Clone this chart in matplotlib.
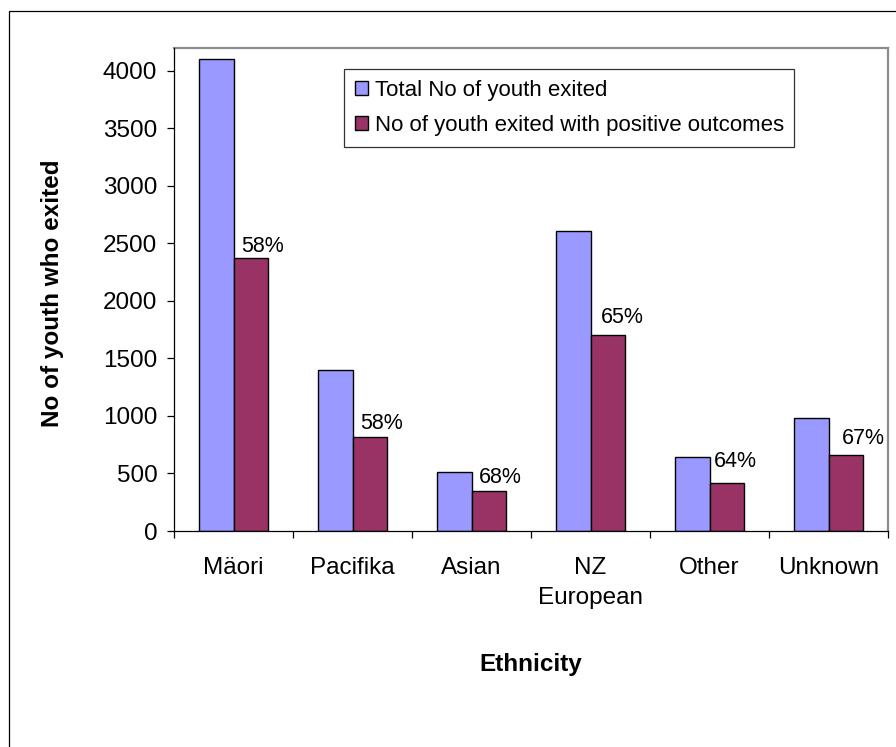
import matplotlib
matplotlib.use("Agg")
import matplotlib.pyplot as plt
import numpy as np
from matplotlib.patches import Rectangle

plt.rcParams['font.family'] = ['Liberation Sans', 'DejaVu Sans']

categories = ["Mäori", "Pacifika", "Asian", "NZ\nEuropean", "Other", "Unknown"]
total_exited = [4100, 1400, 510, 2610, 645, 985]
positive_exited = [2375, 820, 345, 1700, 420, 660]
pct_labels = ["58%", "58%", "68%", "65%", "64%", "67%"]
series_names = ["Total No of youth exited", "No of youth exited with positive outcomes"]
y_ticks = [0, 500, 1000, 1500, 2000, 2500, 3000, 3500, 4000]

# label nudges in pixels (dx, dy) from red bar top-centre
label_nudge_px = [(12, 6), (12, 8), (12, 8), (15, 12), (9, 16), (18, 11)]

W, H = 896, 747
fig = plt.figure(figsize=(W / 100, H / 100), dpi=100)
fig.patch.set_facecolor("white")

# outer border (extends beyond right/bottom edges)
fig.patches.append(Rectangle((9 / W, -0.05), 1.2, 1 - 10.7 / H + 0.05,
                             transform=fig.transFigure, fill=False,
                             edgecolor="black", linewidth=0.9, zorder=0))

left, right, top, bottom = 174, 888, 48, 531
ax = fig.add_axes([left / W, 1 - bottom / H, (right - left) / W, (bottom - top) / H])

x = np.arange(len(categories))
bw = 0.286
ax.bar(x - bw / 2, total_exited, bw, color="#9999FF", edgecolor="black",
       linewidth=1.0, label=series_names[0], zorder=3)
bars2 = ax.bar(x + bw / 2, positive_exited, bw, color="#993366", edgecolor="black",
               linewidth=1.0, label=series_names[1], zorder=3)

for i, (b, t) in enumerate(zip(bars2, pct_labels)):
    dx, dy = label_nudge_px[i]
    ax.annotate(t, (b.get_x() + b.get_width() / 2, b.get_height()),
                xytext=(dx * 0.72, dy * 0.72), textcoords="offset points",
                ha="center", va="baseline", fontsize=15.5, color="black")

ax.set_xlim(-0.5, len(categories) - 0.5)
ax.set_ylim(0, 4197)
ax.set_yticks(y_ticks)
ax.set_yticklabels([str(v) for v in y_ticks], fontsize=17.5)
ax.tick_params(axis="y", direction="out", length=5, width=0.9, pad=7, colors="black")

ax.set_xticks(x)
ax.set_xticklabels(categories, fontsize=17.5, linespacing=1.45)
ax.tick_params(axis="x", which="major", length=0, pad=19)
ax.set_xticks(np.arange(-0.5, len(categories), 1.0), minor=True)
ax.tick_params(axis="x", which="minor", direction="out", length=5, width=0.9)

for s in ["left", "bottom"]:
    ax.spines[s].set_color("black")
    ax.spines[s].set_linewidth(0.9)
    ax.spines[s].set_zorder(4)
for s in ["top", "right"]:
    ax.spines[s].set_color("#8c8c8c")
    ax.spines[s].set_linewidth(1.6)

ax.set_ylabel("No of youth who exited", fontsize=17.5, fontweight="bold")
ax.yaxis.set_label_coords((53 - left) / (right - left), (bottom - 293) / (bottom - top))
ax.yaxis.label.set_va("center")
ax.set_xlabel("Ethnicity", fontsize=17.5, fontweight="bold")
ax.xaxis.set_label_coords(0.5, (bottom - 665) / (bottom - top))
ax.xaxis.label.set_va("center")

leg = ax.legend(loc="upper left", bbox_to_anchor=(344 / W, 1 - 69 / H),
                bbox_transform=fig.transFigure, fontsize=16, frameon=True,
                fancybox=False, shadow=False, borderaxespad=0,
                handlelength=0.6, handleheight=0.6, handletextpad=0.3,
                labelspacing=0.65, borderpad=0.48)
leg.get_frame().set_edgecolor("black")
leg.get_frame().set_linewidth(0.9)

fig.savefig("out.png", dpi=100, facecolor="white")
